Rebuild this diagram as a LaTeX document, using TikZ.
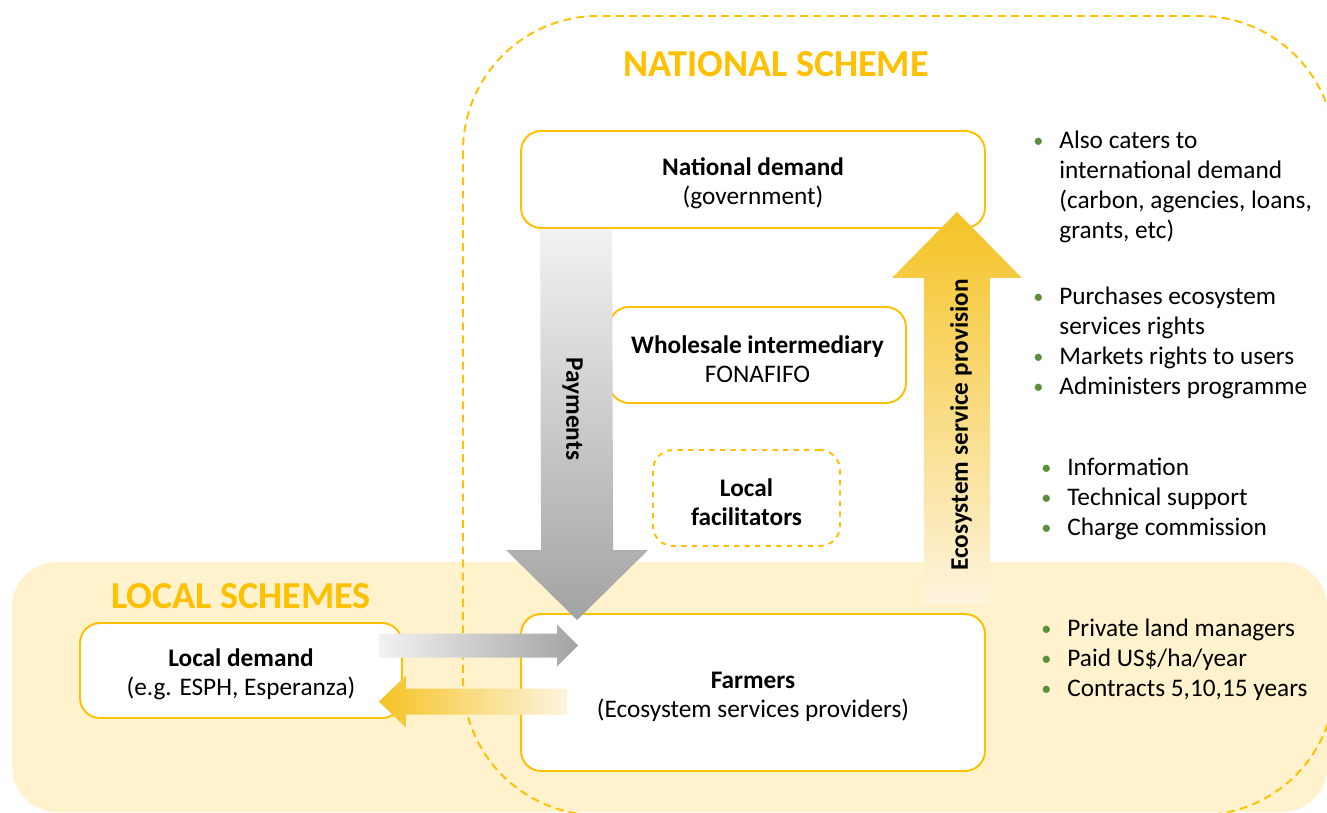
\documentclass[tikz,border=0pt]{standalone}
\usepackage{fontspec}
\setmainfont{Carlito}
\usepackage{xcolor}
\usepackage{tikz}
\usetikzlibrary{calc}
\definecolor{SchemeGold}{HTML}{FFC000}
\definecolor{LocalFill}{HTML}{FFF2CC}
\definecolor{BulGreen}{HTML}{5B8F3A}
\definecolor{FlowGold}{HTML}{F5C325}
\definecolor{FlowCream}{HTML}{FDF4DE}
\definecolor{PayLight}{HTML}{F2F2F2}
\definecolor{PayDark}{HTML}{A3A3A3}
\newcommand{\BulItem}{\makebox[0.52cm][l]{\raisebox{0.06em}{\scalebox{0.8}{\textcolor{BulGreen}{\textbullet}}}}}
\newcommand{\BulSkip}{\hspace*{0.52cm}}
\newcommand{\Lift}{\rule{0pt}{14.5pt}}
\tikzset{
  MyBox/.style={
    rectangle, rounded corners=4mm,
    line width=1.1pt, draw=SchemeGold, fill=white,
    align=center, font={\fontsize{14.4}{16.5}\selectfont},
  },
  MyTitle/.style={text=SchemeGold, font={\fontsize{21.7}{25}\selectfont\bfseries}},
  MyNotes/.style={anchor=north west, inner sep=0pt, align=left, font={\fontsize{14.4}{17}\selectfont}},
  MyLabel/.style={font={\fontsize{14.4}{17}\selectfont\bfseries}},
}

\begin{document}
\begin{tikzpicture}[x=0.02cm, y=-0.02cm]
\clip (0,0) rectangle (1327,812);
\fill[white] (0,0) rectangle (1327,812);
% scheme areas
\fill[LocalFill, rounded corners=9mm] (12,562) rectangle (1327,812);
\draw[SchemeGold, line width=1.1pt, dash pattern=on 4.5pt off 3pt, rounded corners=2.7cm] (463,16) rectangle (1335,815);
\node[MyTitle] (NS) at (776,64) {NATIONAL SCHEME};
\node[MyTitle] (LS) at (241,596) {LOCAL SCHEMES};
% actors
\node[MyBox, minimum width=9.28cm, minimum height=1.94cm] (ND) at (753,179.5) {\Lift\textbf{National demand}\\(government)};
\node[MyBox, minimum width=5.94cm, minimum height=1.92cm] (WI) at (757.5,355) {\Lift\textbf{Wholesale intermediary}\\FONAFIFO};
\node[MyBox, dashed, minimum width=3.74cm, minimum height=1.92cm] (LF) at (746.5,498) {\Lift\textbf{Local}\\\textbf{facilitators}};
\node[MyBox, minimum width=9.28cm, minimum height=3.14cm] (FARM) at (753,692.5) {\Lift\textbf{Farmers}\\(Ecosystem services providers)};
\node[MyBox, minimum width=6.44cm, minimum height=1.9cm] (LD) at (241,670.5) {\Lift\textbf{Local demand}\\(e.g. ESPH, Esperanza)};
% flow ends
\coordinate (payTop) at ($(ND.south west)+(56,0)$);
\coordinate (payTip) at ($(FARM.north west)+(57,7)$);
\coordinate (espTip) at ($(ND.south east)+(-29,-17)$);
\coordinate (espFoot) at ($(FARM.north east)+(-29,-9)$);
\coordinate (gpStart) at ($(LD.east)+(-24,-25)$);
\coordinate (gpTip) at ($(FARM.west)+(58,-47)$);
\coordinate (ypTip) at ($(LD.east)+(-24,31)$);
\coordinate (ypEnd) at ($(FARM.west)+(47,9)$);
% payments down to the farmers
\shade[top color=PayLight, bottom color=PayDark] ($(payTop)+(-36,0)$) -- ($(payTop)+(36,0)$) -- ($(payTip)+(36,-70)$) -- ($(payTip)+(71,-70)$) -- (payTip) -- ($(payTip)+(-71,-70)$) -- ($(payTip)+(-36,-70)$) -- cycle;
\node[MyLabel, rotate=-90] (PAY) at ($(payTop)!0.46!(payTip)+(-4,0)$) {Payments};
% service provision up to national demand
\shade[top color=FlowGold, bottom color=FlowCream] ($(espFoot)+(-33,0)$) -- ($(espTip)+(-33,66)$) -- ($(espTip)+(-65,66)$) -- (espTip) -- ($(espTip)+(65,66)$) -- ($(espTip)+(33,66)$) -- ($(espFoot)+(33,0)$) -- cycle;
\node[MyLabel, rotate=90] (ESP) at ($(espFoot)!0.457!(espTip)+(4,0)$) {Ecosystem service provision};
% local payments and provision
\shade[left color=PayLight, right color=PayDark] ($(gpStart)+(0,-12)$) -- ($(gpTip)+(-21,-12)$) -- ($(gpTip)+(-21,-21)$) -- (gpTip) -- ($(gpTip)+(-21,21)$) -- ($(gpTip)+(-21,12)$) -- ($(gpStart)+(0,12)$) -- cycle;
\shade[left color=FlowGold, right color=FlowCream] (ypTip) -- ($(ypTip)+(27,-26)$) -- ($(ypTip)+(27,-13)$) -- ($(ypEnd)+(0,-13)$) -- ($(ypEnd)+(0,13)$) -- ($(ypTip)+(27,13)$) -- ($(ypTip)+(27,26)$) -- cycle;
% roles
\node[MyNotes] (N1) at (1033,131) {\BulItem Also caters to\\\BulSkip international demand\\\BulSkip (carbon, agencies, loans,\\\BulSkip grants, etc)};
\node[MyNotes] (N2) at (1033,287) {\BulItem Purchases ecosystem\\\BulSkip services rights\\\BulItem Markets rights to users\\\BulItem Administers programme};
\node[MyNotes] (N3) at (1041,458) {\BulItem Information\\\BulItem Technical support\\\BulItem Charge commission};
\node[MyNotes] (N4) at (1041,619) {\BulItem Private land managers\\\BulItem Paid US\$/ha/year\\\BulItem Contracts 5,10,15 years};
\end{tikzpicture}
\end{document}
